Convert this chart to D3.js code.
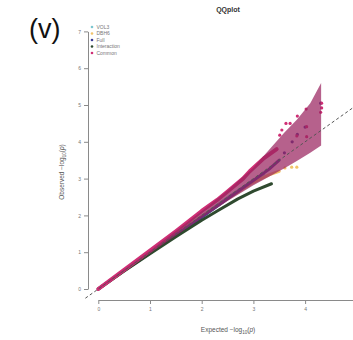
<!DOCTYPE html>
<html><head><meta charset="utf-8">
<script src="https://cdn.jsdelivr.net/npm/d3@7"></script>
<style>body{margin:0;background:#fff}svg{display:block}text{font-family:"Liberation Sans",Arial,sans-serif}</style>
</head><body>
<svg id="c" width="353" height="340"></svg>
<script>
const categories = ["VOL3","DBH6","Full","Interaction","Common"];
const colors = ["#7cc6cf","#f2c46a","#3c3c94","#2f4a2f","#cf2f75"];
const xTicks = [0,1,2,3,4];
const yTicks = [0,1,2,3,4,5,6,7];

const expVOL3 = [0,1,2,2.5,3,3.2];
const obsVOL3 = [0,1,1.98,2.48,2.95,3.12];
const expDBH6 = [0,1,2,2.5,3,3.3,3.5];
const obsDBH6 = [0,0.99,1.97,2.45,2.9,3.1,3.2];
const expFull = [0,0.5,1,1.5,2,2.5,3,3.3,3.5];
const obsFull = [0,0.5,0.98,1.47,1.95,2.45,2.95,3.25,3.5];
const expInter = [0,0.5,1,1.5,2,2.3,2.7,3.0,3.35];
const obsInter = [0,0.49,0.96,1.42,1.87,2.12,2.45,2.66,2.86];
const expCommon = [0,0.5,1,1.5,2,2.3,2.5,2.8,2.93,3.2,3.45];
const obsCommon = [0,0.52,1.04,1.57,2.12,2.42,2.65,3.0,3.2,3.55,3.8];

const tailDBH6x = [3.61,3.74,3.84];
const tailDBH6y = [3.29,3.31,3.31];
const tailFullx = [3.6,3.75,3.85,4.0,4.3];
const tailFully = [3.7,4.0,4.2,4.4,5.05];
const tailCommonx = [3.51,3.55,3.63,3.71,3.85,4.02,4.03,3.84,4.03,4.32,4.32,4.3];
const tailCommony = [4.18,4.32,4.5,4.5,4.7,4.89,4.41,4.16,4.14,5.05,4.92,4.8];

const bandX = [0,1,2,2.5,3,3.3,3.6,3.84,4.1,4.31];
const bandLow = [0,0.97,1.93,2.39,2.82,3.05,3.28,3.48,3.7,3.9];
const bandHigh = [0.02,1.04,2.12,2.68,3.3,3.78,4.25,4.6,5.05,5.6];

const svg = d3.select("#c");
const x = d3.scaleLinear().domain([0,5]).range([98.3, 356.8]);
const y = d3.scaleLinear().domain([0,7]).range([289, 31.4]);

const fmt = d3.format("d");
const ax = svg.append("g").attr("transform","translate(0,300)")
  .call(d3.axisBottom(x).tickValues(xTicks).tickFormat(fmt).tickSize(4).tickSizeOuter(0).tickPadding(3));
const ay = svg.append("g").attr("transform","translate(88,0)")
  .call(d3.axisLeft(y).tickValues(yTicks).tickFormat(fmt).tickSize(4).tickSizeOuter(0).tickPadding(3));
[ax,ay].forEach(g=>{
  g.selectAll("path,line").attr("stroke","#8a8a8a").attr("stroke-width",1);
  g.selectAll("text").attr("fill","#777").style("font-size","5px");
});

const series = [
  [expVOL3,obsVOL3],[expDBH6,obsDBH6],[expFull,obsFull],[expInter,obsInter],[expCommon,obsCommon]
];
const line = d3.line().x(d=>x(d[0])).y(d=>y(d[1]));
series.forEach((s,i)=>{
  const pts = s[0].map((v,j)=>[v,s[1][j]]);
  svg.append("path").attr("d",line(pts)).attr("fill","none")
    .attr("stroke",colors[i]).attr("stroke-width",i===4?4:3)
    .attr("stroke-linecap","round").attr("stroke-linejoin","round");
});
function dots(xs,ys,c){
  svg.append("g").selectAll("circle").data(xs).join("circle")
    .attr("cx",(d)=>x(d)).attr("cy",(d,j)=>y(ys[j])).attr("r",1.6).attr("fill",c);
}
dots(tailDBH6x,tailDBH6y,colors[1]);
dots(tailFullx,tailFully,colors[2]);
dots(tailCommonx,tailCommony,colors[4]);

const area = d3.area().x((d,j)=>x(bandX[j])).y0((d,j)=>y(bandLow[j])).y1((d,j)=>y(bandHigh[j]));
svg.append("path").attr("d",area(bandX)).attr("fill","#9a2460").attr("opacity",0.72);

svg.append("line").attr("x1",x(-0.25)).attr("y1",y(-0.25)).attr("x2",x(5)).attr("y2",y(5))
  .attr("stroke","#555").attr("stroke-width",1).attr("stroke-dasharray","3,2.5");

categories.forEach((c,i)=>{
  const yy = 27 + i*6.5;
  svg.append("circle").attr("cx",92).attr("cy",yy).attr("r",1.3).attr("fill",colors[i]);
  svg.append("text").attr("x",96.5).attr("y",yy).attr("dy","0.35em").text(c)
    .attr("fill","#777").style("font-size","5px");
});

svg.append("text").attr("x",228).attr("y",10).attr("dy","0.35em").attr("text-anchor","middle")
  .text("QQplot").style("font-size","7px").style("font-weight","bold").attr("fill","#333");
svg.append("text").attr("x",29).attr("y",29).attr("dy","0.35em").text("(v)")
  .style("font-size","27px").attr("fill","#111");

const xl = svg.append("text").attr("x",228).attr("y",330).attr("dy","0.35em").attr("text-anchor","middle")
  .attr("fill","#555").style("font-size","6.5px");
xl.append("tspan").text("Expected  \u2212log");
xl.append("tspan").text("10").style("font-size","4.5px").attr("dy","1.5");
xl.append("tspan").text("(").attr("dy","-1.5");
xl.append("tspan").text("p").style("font-style","italic");
xl.append("tspan").text(")");

const yl = svg.append("text").attr("transform","translate(62,172) rotate(-90)").attr("dy","0.35em")
  .attr("text-anchor","middle").attr("fill","#555").style("font-size","6.5px");
yl.append("tspan").text("Observed  \u2212log");
yl.append("tspan").text("10").style("font-size","4.5px").attr("dy","1.5");
yl.append("tspan").text("(").attr("dy","-1.5");
yl.append("tspan").text("p").style("font-style","italic");
yl.append("tspan").text(")");
</script>
</body></html>
